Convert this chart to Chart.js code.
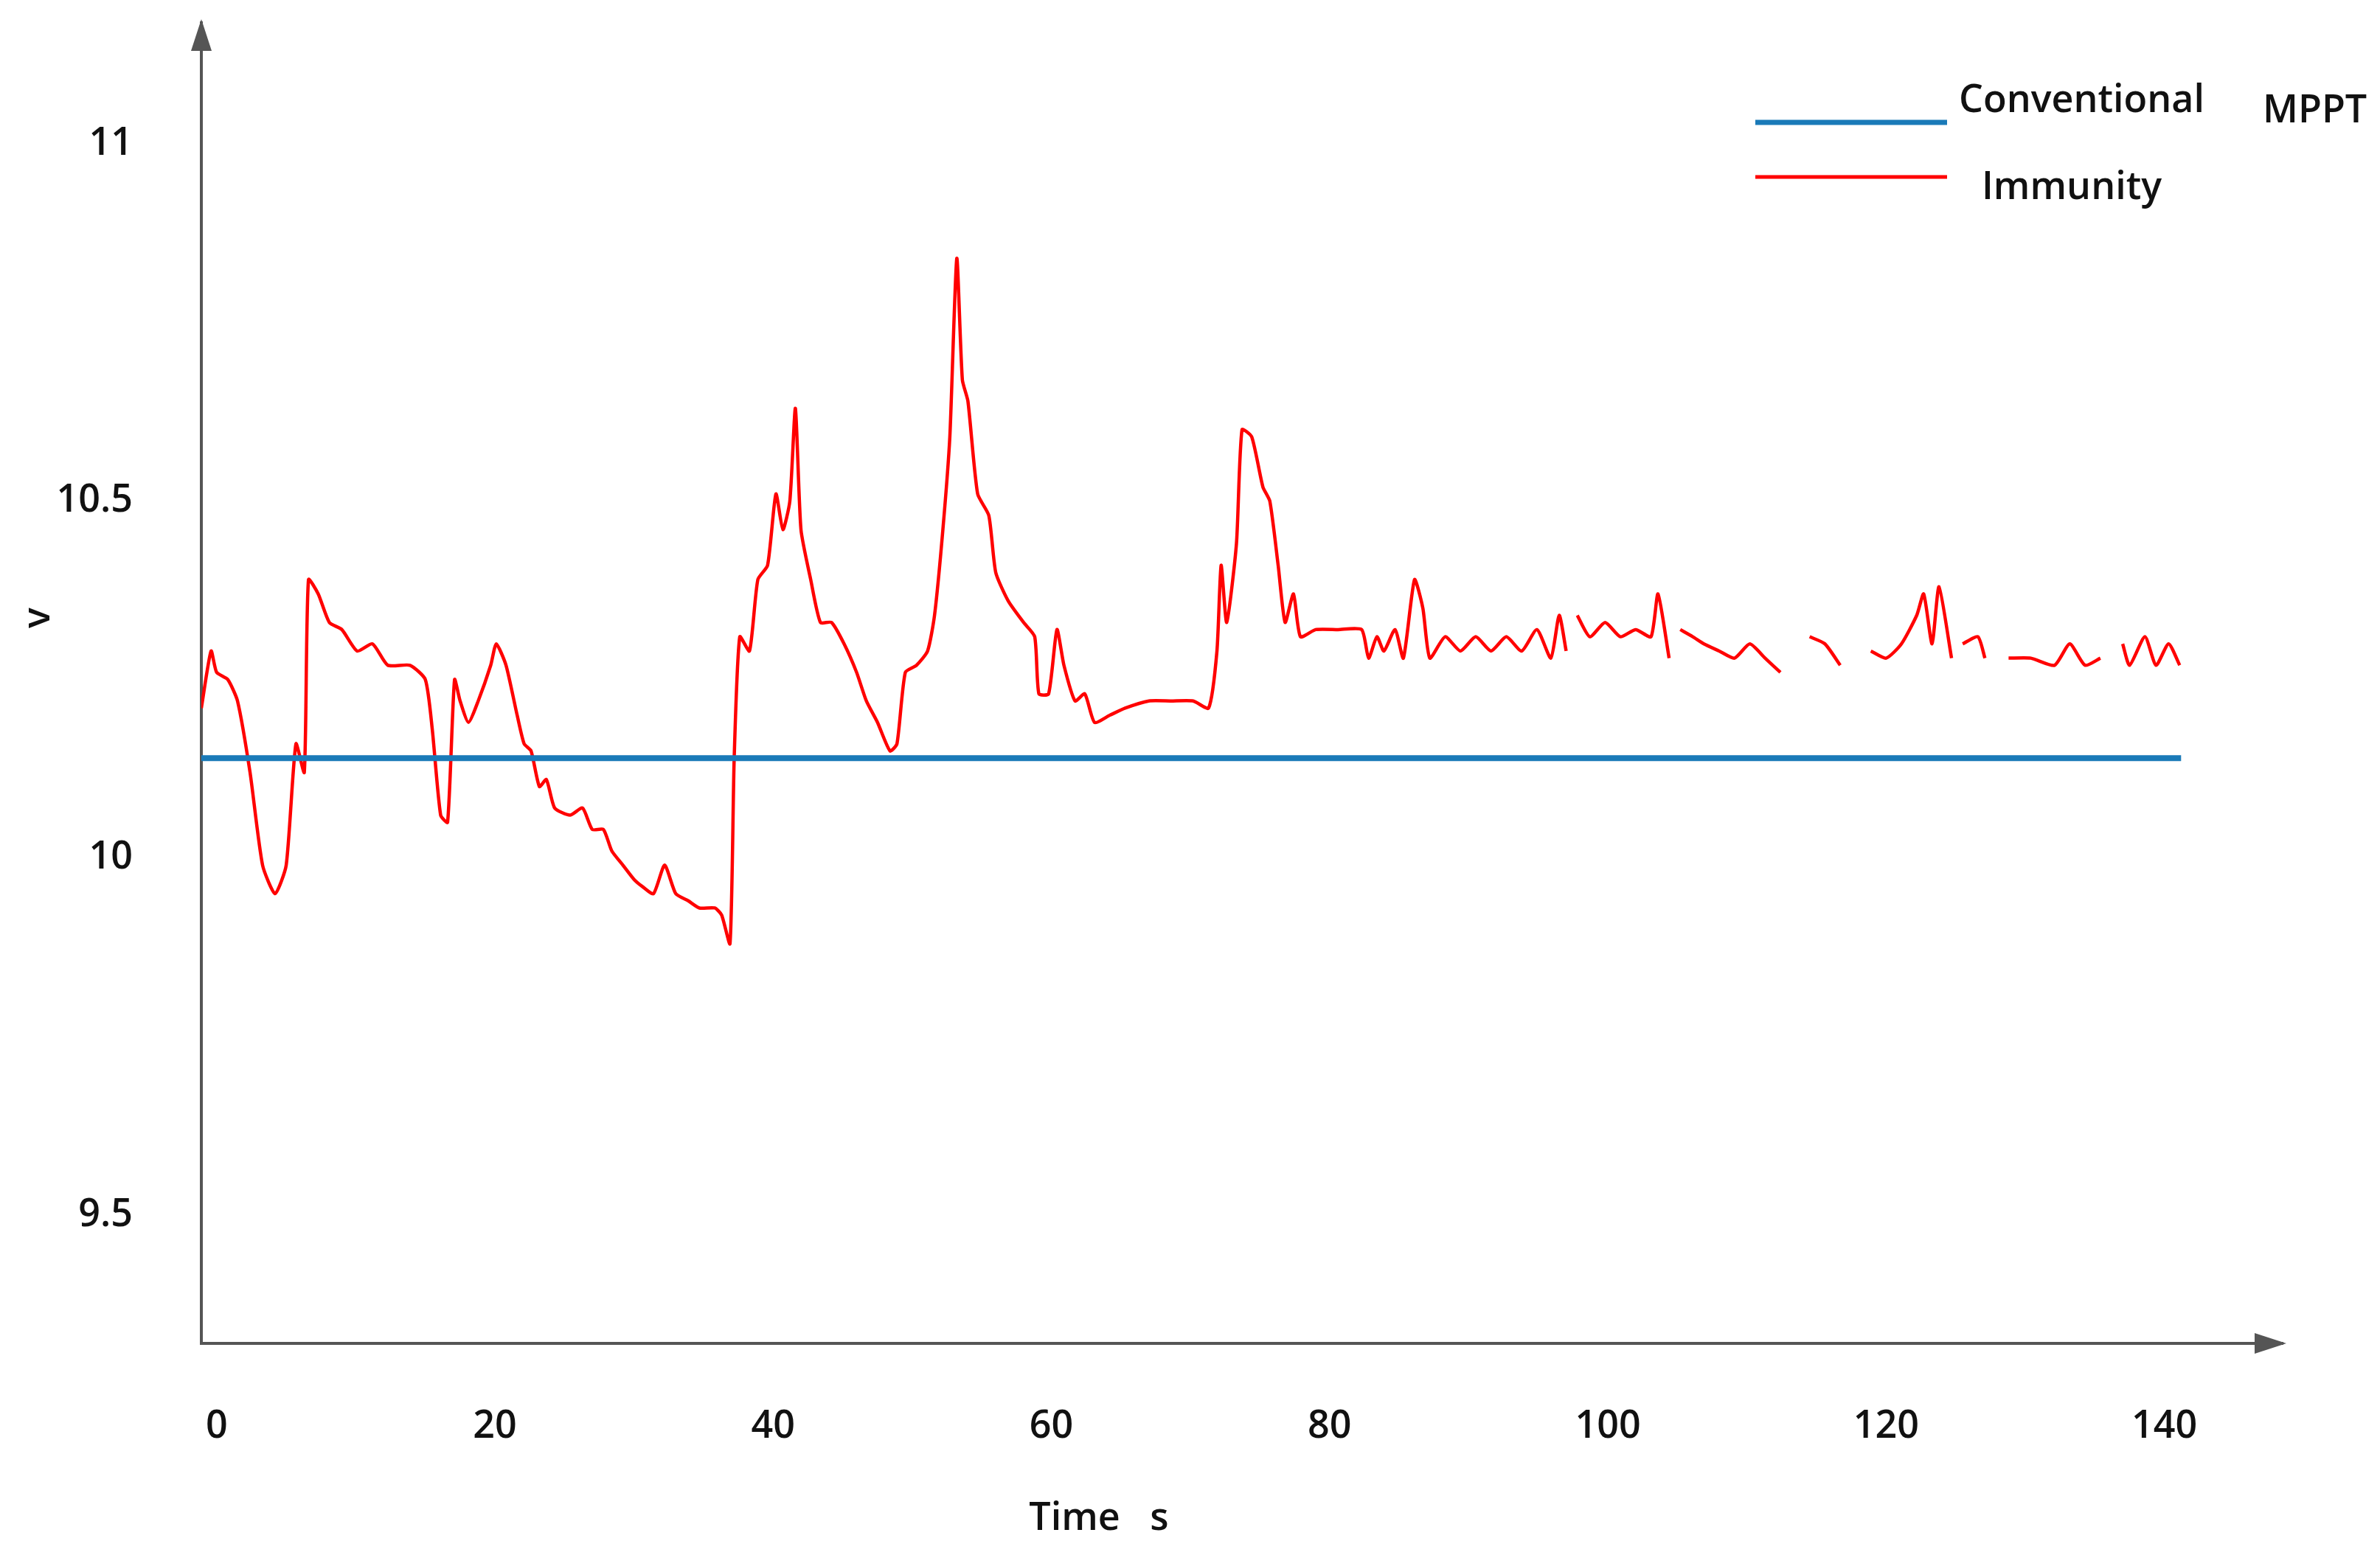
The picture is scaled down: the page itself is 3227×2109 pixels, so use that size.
<!DOCTYPE html>
<html><head><meta charset="utf-8">
<script src="https://cdn.jsdelivr.net/npm/chart.js@4"></script>
<style>html,body{margin:0;padding:0;background:#fff}#w{width:3227px;height:2109px}</style>
</head><body><div id="w"><canvas id="c"></canvas></div>
<script>
const xTicks=[0,20,40,60,80,100,120,140];
const yTicks=[9.5,10,10.5,11];
const conventionalT=[-1.1,141.2];
const conventionalV=[10.14,10.14];
const immunityT=[-1.1,-0.4,0,0.8,1.5,2.4,3.3,4.2,5.0,5.7,6.3,6.6,7.3,8.1,9.0,10.1,11.2,12.3,13.9,15.0,15.5,16.1,16.6,17.1,17.5,18.1,18.8,19.7,20.1,20.8,21.6,22.1,22.6,23.2,23.7,24.3,25.4,26.3,27.0,27.8,28.4,29.2,30.0,30.6,31.4,32.2,33.0,33.9,34.7,35.8,36.3,36.9,37.2,37.6,38.3,38.9,39.6,40.2,40.7,41.2,41.6,42.0,42.7,43.4,44.2,45.1,46.0,46.7,47.5,48.4,48.9,49.5,50.3,51.1,51.6,52.2,52.7,53.2,53.6,54.0,54.7,55.5,56.0,56.9,58.0,58.8,59.1,59.8,60.4,60.9,61.7,62.4,63.1,64.2,65.3,67.0,68.6,70.2,71.3,71.9,72.2,72.6,73.3,73.7,74.4,75.2,75.7,76.3,76.8,77.4,77.9,79.0,80.6,82.3,82.8,83.4,83.9,84.7,85.3,86.1,86.7,87.2,88.3,89.4,90.5,91.6,92.7,93.8,94.9,95.9,96.5,97.0,97.4,97.8,98.7,99.8,100.9,102.0,103.1,103.6,104.4,104.8,105.2,106.1,106.9,108.0,109.1,110.2,111.3,112.4,113.5,114.5,115.6,116.7,117.8,118.9,120.0,121.1,122.2,122.7,123.3,123.8,124.7,125.0,125.5,126.6,127.1,128.5,128.8,130.4,132.1,133.2,134.3,135.4,136.0,137.0,137.5,138.6,139.4,140.3,141.1];
const immunityV=[10.21,10.29,10.26,10.25,10.22,10.12,9.99,9.95,9.99,10.16,10.12,10.39,10.37,10.33,10.32,10.29,10.30,10.27,10.27,10.25,10.18,10.06,10.05,10.25,10.22,10.19,10.22,10.27,10.30,10.27,10.20,10.16,10.15,10.10,10.11,10.07,10.06,10.07,10.04,10.04,10.01,9.99,9.97,9.96,9.95,9.99,9.95,9.94,9.93,9.93,9.92,9.88,10.14,10.31,10.29,10.39,10.41,10.51,10.46,10.50,10.63,10.46,10.39,10.33,10.33,10.30,10.26,10.22,10.19,10.15,10.16,10.26,10.27,10.29,10.34,10.46,10.59,10.84,10.67,10.64,10.51,10.48,10.40,10.36,10.33,10.31,10.23,10.23,10.32,10.27,10.22,10.23,10.19,10.20,10.21,10.22,10.22,10.22,10.21,10.29,10.41,10.33,10.44,10.60,10.59,10.52,10.50,10.41,10.33,10.37,10.31,10.32,10.32,10.32,10.28,10.31,10.29,10.32,10.28,10.39,10.35,10.28,10.31,10.29,10.31,10.29,10.31,10.29,10.32,10.28,10.34,10.29,null,10.34,10.31,10.33,10.31,10.32,10.31,10.37,10.28,null,10.32,10.31,10.30,10.29,10.28,10.30,10.28,10.26,null,10.31,10.30,10.27,null,10.29,10.28,10.30,10.34,10.37,10.30,10.38,10.28,null,10.30,10.31,10.28,null,10.28,10.28,10.27,10.30,10.27,10.28,null,10.30,10.27,10.31,10.27,10.30,10.27];
const zip=(a,b)=>a.map((x,i)=>({x:x,y:b[i]}));
const FONT='"Open Sans", sans-serif';
const deco={id:'deco',afterDraw(ch){
  const c=ch.ctx,xs=ch.scales.x,ys=ch.scales.y,a=ch.chartArea;
  c.save();c.fillStyle='#555';
  c.beginPath();c.moveTo(a.left,a.top-5);c.lineTo(a.left-14,a.top+38);c.lineTo(a.left+14,a.top+38);c.closePath();c.fill();
  c.beginPath();c.moveTo(a.right+5,a.bottom);c.lineTo(a.right-38,a.bottom-14);c.lineTo(a.right-38,a.bottom+14);c.closePath();c.fill();
  c.fillStyle='#111';c.font='600 52px '+FONT;c.textBaseline='middle';
  c.textAlign='right';yTicks.forEach(v=>c.fillText(String(v),180,ys.getPixelForValue(v)));
  c.textAlign='center';xTicks.forEach(v=>c.fillText(String(v),xs.getPixelForValue(v),1935));
  c.fillText('Time   s',1490,2060);
  c.save();c.translate(52,838);c.rotate(-Math.PI/2);c.fillText('v',0,0);c.restore();
  c.textAlign='left';
  c.fillText('Conventional',2656,137);c.fillText('MPPT',3068,151);c.fillText('Immunity',2687,255);
  c.lineWidth=7;c.strokeStyle='#1a7ab8';c.beginPath();c.moveTo(2380,166);c.lineTo(2640,166);c.stroke();
  c.lineWidth=5;c.strokeStyle='#ff0000';c.beginPath();c.moveTo(2380,240);c.lineTo(2640,240);c.stroke();
  c.restore();
}};
new Chart(document.getElementById('c'),{type:'line',
 data:{datasets:[
  {label:'Conventional MPPT',data:zip(conventionalT,conventionalV),borderColor:'#1a7ab8',borderWidth:8,pointRadius:0},
  {label:'Immunity',data:zip(immunityT,immunityV),borderColor:'#ff0000',borderWidth:4.5,pointRadius:0,spanGaps:false,tension:0.2}
 ]},
 options:{responsive:true,maintainAspectRatio:false,animation:false,
  layout:{padding:{left:265,bottom:279,top:31,right:132}},
  plugins:{legend:{display:false},tooltip:{enabled:false}},
  scales:{
   x:{type:'linear',min:-1.1,max:148.5,grid:{display:false},ticks:{display:false},border:{color:'#555',width:4}},
   y:{type:'linear',min:9.32,max:11.17,grid:{display:false},ticks:{display:false},border:{color:'#555',width:4}}
  }},
 plugins:[deco]});
</script></body></html>
